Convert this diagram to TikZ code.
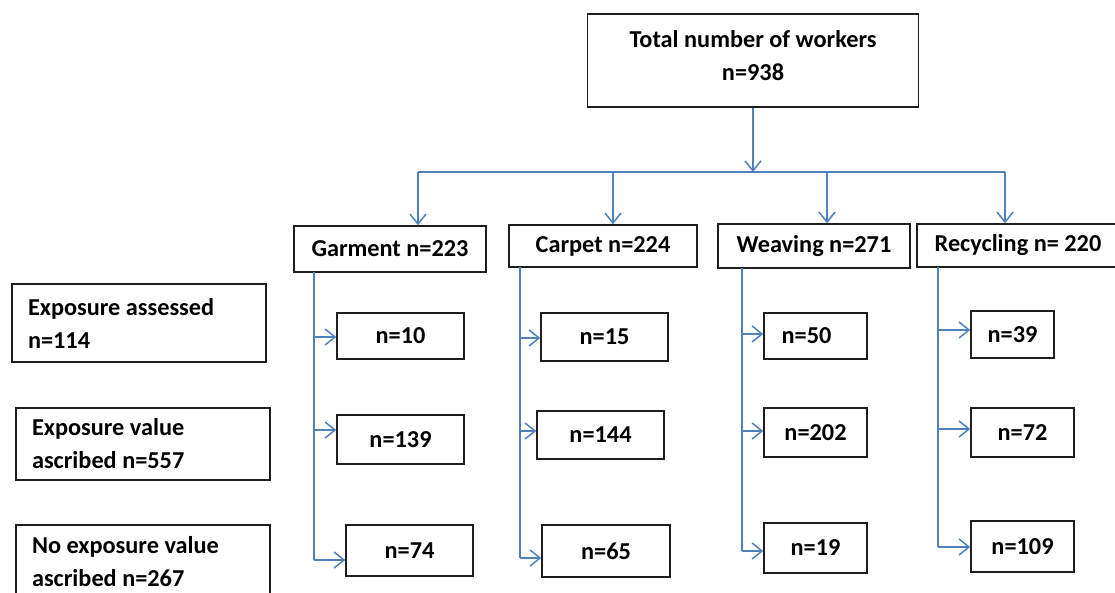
\documentclass[tikz,border=0pt]{standalone}
\usepackage{fontspec}
\setmainfont{Carlito}
\usetikzlibrary{arrows.meta}
\definecolor{lineblue}{RGB}{79,129,189}
\definecolor{boxline}{RGB}{30,30,30}
\begin{document}
\begin{tikzpicture}[x=1pt,y=-1pt,
  box/.style={draw=boxline, line width=1.5pt, fill=white, inner sep=0pt,
    font=\fontsize{24.3}{33}\selectfont\bfseries},
  link/.style={draw=lineblue, line width=1.5pt},
  arr/.style={link, -{Straight Barb[length=10pt,width=16pt,line width=1.5pt]}}]
\useasboundingbox (0,0) rectangle (1115,592);
\clip (0,0) rectangle (1115,592);

% top
\node[box, minimum width=331pt, minimum height=93pt, align=center, text depth=10pt] (top) at (753,60.5) {Total number of workers\\n=938};

% categories
\node[box, minimum width=192pt, minimum height=46pt] (gar) at (390,249) {Garment n=223};
\node[box, minimum width=188pt, minimum height=42pt] (car) at (603,246) {Carpet n=224};
\node[box, minimum width=192pt, minimum height=44pt] (wea) at (814,246) {Weaving n=271};
\node[box, minimum width=202pt, minimum height=43pt] (rec) at (1018,245.5) {Recycling n= 220};

% left labels
\node[box, minimum width=254pt, minimum height=78pt, text width=222pt, align=flush left] (la) at (139,323) {Exposure assessed\\n=114};
\node[box, minimum width=254pt, minimum height=72pt, text width=222pt, align=flush left] (lb) at (143,444) {Exposure value\\ascribed n=557};
\node[box, minimum width=254pt, minimum height=74pt, text width=222pt, align=flush left] (lc) at (143,562) {No exposure value\\ascribed n=267};

% garment subs
\node[box, minimum width=127pt, minimum height=46pt] (g1) at (400.5,336) {n=10};
\node[box, minimum width=127pt, minimum height=49pt] (g2) at (400.5,439.5) {n=139};
\node[box, minimum width=127pt, minimum height=51pt] (g3) at (409.5,550.5) {n=74};
% carpet subs
\node[box, minimum width=127pt, minimum height=48pt] (c1) at (604.5,337) {n=15};
\node[box, minimum width=127pt, minimum height=48pt] (c2) at (600.5,435) {n=144};
\node[box, minimum width=128pt, minimum height=52pt] (c3) at (606,551) {n=65};
% weaving subs
\node[box, minimum width=103pt, minimum height=46pt] (w1) at (815.5,336) {n=50\kern18pt};
\node[box, minimum width=103pt, minimum height=49pt] (w2) at (815.5,432.5) {n=202};
\node[box, minimum width=103pt, minimum height=50pt] (w3) at (815.5,548) {n=19};
% recycling subs
\node[box, minimum width=83pt, minimum height=47pt] (r1) at (1012.5,334.5) {n=39};
\node[box, minimum width=103pt, minimum height=49pt] (r2) at (1022.5,432.5) {n=72};
\node[box, minimum width=103pt, minimum height=51pt] (r3) at (1022.5,546.5) {n=109};

% bus
\coordinate (bus) at (753,172);
\coordinate (bg) at (418,172);
\coordinate (bc) at (613,172);
\coordinate (bw) at (827,172);
\coordinate (br) at (1005,172);
\draw[arr] (top.south) -- (bus);
\draw[link] (bg) -- (br);
\draw[arr] (bg) -- (bg |- gar.north);
\draw[arr] (bc) -- (bc |- car.north);
\draw[arr] (bw) -- (bw |- wea.north);
\draw[arr] (br) -- (br |- rec.north);

% garment branch
\coordinate (gv) at (314,272);
\coordinate (gy1) at (314,337);
\coordinate (gy2) at (314,430);
\coordinate (gy3) at (314,560);
\draw[link] (gv) -- (gy3);
\draw[arr] (gy1) -- (gy1 -| g1.west);
\draw[arr] (gy2) -- (gy2 -| g2.west);
\draw[arr] (gy3) -- (gy3 -| g3.west);

% carpet branch
\coordinate (cv) at (520,267);
\coordinate (cy1) at (520,338);
\coordinate (cy2) at (520,431);
\coordinate (cy3) at (520,558);
\draw[link] (cv) -- (cy3);
\draw[arr] (cy1) -- (cy1 -| c1.west);
\draw[arr] (cy2) -- (cy2 -| c2.west);
\draw[arr] (cy3) -- (cy3 -| c3.west);

% weaving branch
\coordinate (wv) at (742,268);
\coordinate (wy1) at (742,334);
\coordinate (wy2) at (742,431);
\coordinate (wy3) at (742,551);
\draw[link] (wv) -- (wy3);
\draw[arr] (wy1) -- (wy1 -| w1.west);
\draw[arr] (wy2) -- (wy2 -| w2.west);
\draw[arr] (wy3) -- (wy3 -| w3.west);

% recycling branch
\coordinate (rv) at (938,267);
\coordinate (ry1) at (938,330);
\coordinate (ry2) at (938,429);
\coordinate (ry3) at (938,547);
\draw[link] (rv) -- (ry3);
\draw[arr] (ry1) -- (ry1 -| r1.west);
\draw[arr] (ry2) -- (ry2 -| r2.west);
\draw[arr] (ry3) -- (ry3 -| r3.west);
\end{tikzpicture}
\end{document}
